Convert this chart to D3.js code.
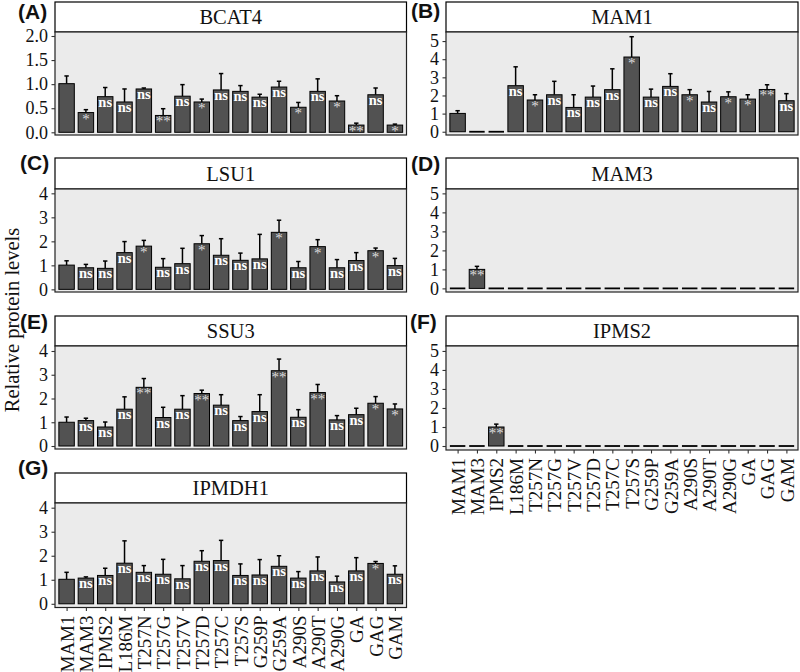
<!DOCTYPE html>
<html><head><meta charset="utf-8">
<script src="https://cdn.jsdelivr.net/npm/d3@7"></script>
<style>body{margin:0;background:#fff;}svg{display:block;}</style>
</head><body>
<svg id="chart" width="800" height="672"></svg>
<script>
const categories = ["MAM1","MAM3","IPMS2","L186M","T257N","T257G","T257V","T257D","T257C","T257S","G259P","G259A","A290S","A290T","A290G","GA","GAG","GAM"];

const bcat4Mean = [1.01,0.41,0.74,0.63,0.90,0.35,0.75,0.63,0.88,0.85,0.73,0.94,0.52,0.85,0.65,0.15,0.78,0.15];
const bcat4Sd   = [0.16,0.06,0.19,0.27,0.02,0.14,0.24,0.06,0.34,0.12,0.06,0.12,0.10,0.26,0.11,0.04,0.14,0.02];
const bcat4Sig  = ["","*","ns","ns","ns","**","ns","*","ns","ns","ns","ns","*","ns","*","**","ns","*"];

const mam1Mean = [1.01,0,0,2.54,1.75,2.04,1.34,1.91,2.32,4.12,1.91,2.50,2.04,1.64,1.93,1.80,2.33,1.71];
const mam1Sd   = [0.15,0,0,1.04,0.29,0.74,0.70,0.61,1.15,1.12,0.44,0.70,0.28,0.58,0.27,0.24,0.26,0.39];
const mam1Sig  = ["","","","ns","*","ns","ns","ns","ns","*","ns","ns","*","ns","*","*","**","ns"];

const lsu1Mean = [1.01,0.90,0.875,1.53,1.80,0.92,1.07,1.90,1.42,1.21,1.27,2.375,0.90,1.78,0.90,1.20,1.61,0.99];
const lsu1Sd   = [0.18,0.14,0.305,0.46,0.24,0.36,0.64,0.34,0.69,0.30,1.02,0.505,0.26,0.29,0.34,0.33,0.11,0.30];
const lsu1Sig  = ["","ns","ns","ns","*","ns","ns","*","ns","ns","ns","*","ns","*","ns","ns","*","ns"];

const mam3Mean = [0,1.0,0,0,0,0,0,0,0,0,0,0,0,0,0,0,0,0];
const mam3Sd   = [0,0.16,0,0,0,0,0,0,0,0,0,0,0,0,0,0,0,0];
const mam3Sig  = ["","**","","","","","","","","","","","","","","","",""];

const ssu3Mean = [1.00,1.07,0.80,1.55,2.47,1.20,1.55,2.21,1.72,1.07,1.45,3.17,1.21,2.25,1.10,1.32,1.80,1.56];
const ssu3Sd   = [0.22,0.10,0.21,0.52,0.37,0.43,0.57,0.14,0.44,0.17,0.71,0.49,0.32,0.34,0.18,0.27,0.28,0.21];
const ssu3Sig  = ["","ns","ns","ns","**","ns","ns","**","ns","ns","ns","**","ns","**","ns","ns","*","*"];

const ipms2Mean = [0,0,1.0,0,0,0,0,0,0,0,0,0,0,0,0,0,0,0];
const ipms2Sd   = [0,0,0.15,0,0,0,0,0,0,0,0,0,0,0,0,0,0,0];
const ipms2Sig  = ["","","**","","","","","","","","","","","","","","",""];

const ipmdh1Mean = [1.02,1.07,1.18,1.69,1.31,1.23,1.04,1.77,1.80,1.18,1.20,1.56,1.07,1.37,0.91,1.37,1.68,1.23];
const ipmdh1Sd   = [0.29,0.05,0.30,0.93,0.28,0.62,0.55,0.44,0.84,0.48,0.64,0.44,0.27,0.58,0.24,0.55,0.08,0.35];
const ipmdh1Sig  = ["","ns","ns","ns","ns","ns","ns","ns","ns","ns","ns","ns","ns","ns","ns","ns","*","ns"];

const ticksA = [0,0.5,1.0,1.5,2.0];
const ticks5 = [0,1,2,3,4,5];
const ticks4 = [0,1,2,3,4];

// layout
const cols = [{x0:55,x1:406.5},{x0:446,x1:798}];
const panels = [
  {tag:"(A)", title:"BCAT4", mean:bcat4Mean, sd:bcat4Sd, sig:bcat4Sig, col:0, sTop:2, pTop:32, pBot:135, dom:[-0.056,2.083], ticks:ticksA, fmt:d3.format(".1f"), tagX:18, tagY:19, xlab:false},
  {tag:"(B)", title:"MAM1", mean:mam1Mean, sd:mam1Sd, sig:mam1Sig, col:1, sTop:2, pTop:32, pBot:135, dom:[-0.18,5.5], ticks:ticks5, fmt:d3.format("d"), tagX:411, tagY:18, xlab:false},
  {tag:"(C)", title:"LSU1", mean:lsu1Mean, sd:lsu1Sd, sig:lsu1Sig, col:0, sTop:158, pTop:189, pBot:292, dom:[-0.11,4.18], ticks:ticks4, fmt:d3.format("d"), tagX:20, tagY:170, xlab:false},
  {tag:"(D)", title:"MAM3", mean:mam3Mean, sd:mam3Sd, sig:mam3Sig, col:1, sTop:158, pTop:189, pBot:292, dom:[-0.19,5.23], ticks:ticks5, fmt:d3.format("d"), tagX:411, tagY:170.5, xlab:false},
  {tag:"(E)", title:"SSU3", mean:ssu3Mean, sd:ssu3Sd, sig:ssu3Sig, col:0, sTop:316, pTop:346, pBot:449, dom:[-0.126,4.21], ticks:ticks4, fmt:d3.format("d"), tagX:20, tagY:329, xlab:false},
  {tag:"(F)", title:"IPMS2", mean:ipms2Mean, sd:ipms2Sd, sig:ipms2Sig, col:1, sTop:316, pTop:346, pBot:450, dom:[-0.21,5.26], ticks:ticks5, fmt:d3.format("d"), tagX:410, tagY:328.5, xlab:true},
  {tag:"(G)", title:"IPMDH1", mean:ipmdh1Mean, sd:ipmdh1Sd, sig:ipmdh1Sig, col:0, sTop:473, pTop:503, pBot:607.5, dom:[-0.154,4.195], ticks:ticks4, fmt:d3.format("d"), tagX:18, tagY:475, xlab:true}
];

const svg = d3.select("#chart");
const serif = "'Liberation Serif','Times New Roman',serif";
const sans = "'Liberation Sans',Arial,sans-serif";

panels.forEach(p => {
  const c = cols[p.col];
  const g = svg.append("g");
  // ggplot-style discrete expansion (0.6 units each side)
  const step = (c.x1 - c.x0) / (categories.length - 1 + 1.2);
  const xc = d3.scalePoint().domain(categories).range([c.x0 + 0.6*step, c.x1 - 0.6*step]);
  const bw = step * 0.8;
  const y = d3.scaleLinear().domain(p.dom).range([p.pBot, p.pTop]);

  // strip
  g.append("rect").attr("x", c.x0).attr("y", p.sTop).attr("width", c.x1 - c.x0).attr("height", p.pTop - p.sTop)
    .attr("fill", "#fff").attr("stroke", "#000").attr("stroke-width", 1.2);
  g.append("text").attr("x", (c.x0 + c.x1)/2).attr("y", (p.sTop + p.pTop)/2 + 7)
    .attr("text-anchor", "middle").attr("font-family", serif).attr("font-size", 20.5).attr("fill", "#111").text(p.title);

  // panel background
  g.append("rect").attr("x", c.x0).attr("y", p.pTop).attr("width", c.x1 - c.x0).attr("height", p.pBot - p.pTop)
    .attr("fill", "#ebebeb");

  const data = categories.map((k,i) => ({k, m:p.mean[i], s:p.sd[i], sig:p.sig[i]}));

  // error bars (upper only)
  const eb = data.filter(d => d.s > 0);
  g.selectAll(".eline").data(eb).enter().append("line")
    .attr("x1", d => xc(d.k)).attr("x2", d => xc(d.k))
    .attr("y1", d => y(d.m)).attr("y2", d => y(d.m + d.s))
    .attr("stroke", "#000").attr("stroke-width", 1.5);
  g.selectAll(".ecap").data(eb).enter().append("line")
    .attr("x1", d => xc(d.k) - 2.2).attr("x2", d => xc(d.k) + 2.2)
    .attr("y1", d => y(d.m + d.s)).attr("y2", d => y(d.m + d.s))
    .attr("stroke", "#000").attr("stroke-width", 1.5);

  // bars
  const nz = data.filter(d => d.m > 0);
  g.selectAll(".bar").data(nz).enter().append("rect")
    .attr("x", d => xc(d.k) - bw/2).attr("width", bw)
    .attr("y", d => y(d.m)).attr("height", d => y(0) - y(d.m))
    .attr("fill", "#525252").attr("stroke", "#000").attr("stroke-width", 1);
  // zero-height bars shown as flat outlines
  const zr = data.filter(d => d.m === 0);
  g.selectAll(".zbar").data(zr).enter().append("line")
    .attr("x1", d => xc(d.k) - bw/2).attr("x2", d => xc(d.k) + bw/2)
    .attr("y1", y(0)).attr("y2", y(0))
    .attr("stroke", "#000").attr("stroke-width", 1.8);

  // significance labels
  g.selectAll(".sig").data(data.filter(d => d.sig)).enter().append("text")
    .attr("x", d => xc(d.k)).attr("y", d => y(d.m) + (d.sig === "ns" ? 10 : 11))
    .attr("text-anchor", "middle").attr("font-family", serif)
    .attr("font-weight", d => d.sig === "ns" ? "bold" : "normal")
    .attr("font-size", d => d.sig === "ns" ? 14.5 : 15)
    .attr("fill", d => d.sig === "ns" ? "#ffffff" : "#dcdcdc")
    .text(d => d.sig);

  // panel border
  g.append("rect").attr("x", c.x0).attr("y", p.pTop).attr("width", c.x1 - c.x0).attr("height", p.pBot - p.pTop)
    .attr("fill", "none").attr("stroke", "#222").attr("stroke-width", 1.2);

  // y axis
  const ya = g.append("g").attr("transform", `translate(${c.x0},0)`)
    .call(d3.axisLeft(y).tickValues(p.ticks).tickFormat(p.fmt).tickSize(3.5).tickPadding(3.5));
  ya.select(".domain").remove();
  ya.selectAll(".tick line").attr("stroke", "#333").attr("stroke-width", 1.1);
  ya.selectAll(".tick text").attr("font-family", serif).attr("font-size", 18).attr("fill", "#111");

  // x axis labels (bottom panels only)
  if (p.xlab) {
    const xa = g.append("g").attr("transform", `translate(0,${p.pBot})`)
      .call(d3.axisBottom(xc).tickSize(3.5).tickPadding(4));
    xa.select(".domain").remove();
    xa.selectAll(".tick line").attr("stroke", "#333").attr("stroke-width", 1.1);
    xa.selectAll(".tick text")
      .attr("font-family", serif).attr("font-size", 19).attr("fill", "#111")
      .attr("text-anchor", "end").attr("transform", "rotate(-90)")
      .attr("x", -8).attr("y", 0).attr("dy", "0.35em");
  }

  // panel tag
  svg.append("text").attr("x", p.tagX).attr("y", p.tagY).attr("font-family", sans)
    .attr("font-weight", "bold").attr("font-size", 21).attr("fill", "#111").text(p.tag);
});

// y axis title
svg.append("text").attr("transform", "translate(19,320) rotate(-90)")
  .attr("text-anchor", "middle").attr("font-family", serif).attr("font-size", 20.5).attr("fill", "#111")
  .text("Relative protein levels");
</script>
</body></html>
